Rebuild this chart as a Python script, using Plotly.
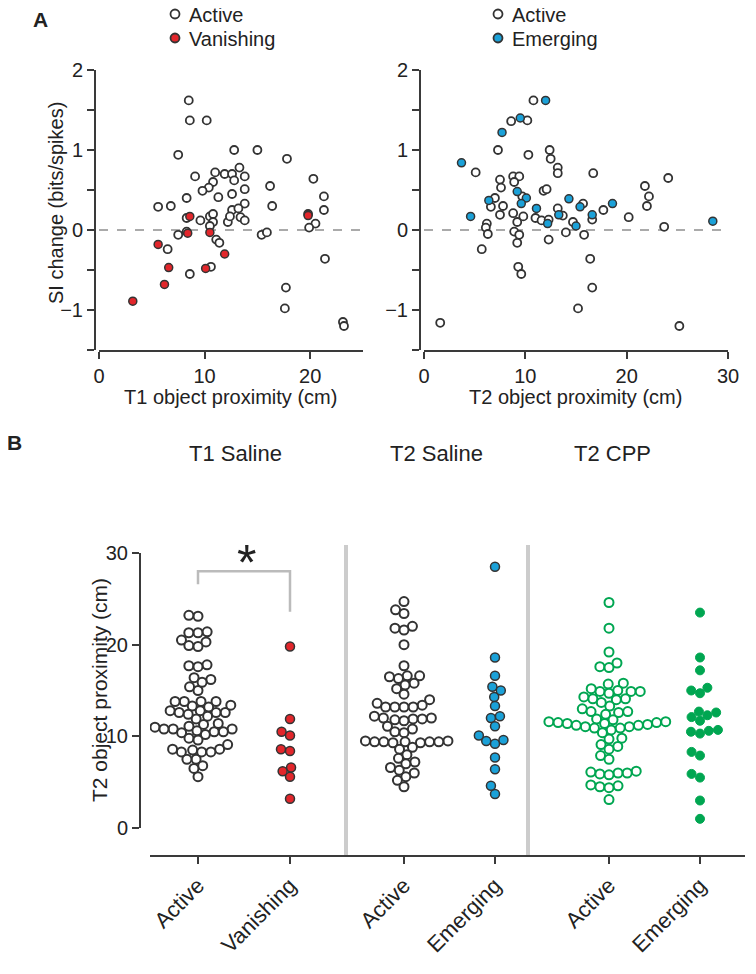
import math
import plotly.graph_objects as go

W, H = 756, 974
OFF = 8  # page body margin of the browser

# ---------------- Panel A data ----------------
# T1 (left): object proximity (cm) and SI change
t1_active_x = [8.5, 8.6, 10.2, 7.5, 12.8, 15.0, 9.1, 11.0, 11.9, 12.6, 13.3, 12.8, 13.8, 10.8,
               10.4, 9.8, 13.8, 12.6, 11.3, 8.3, 16.2, 5.6, 6.8, 13.8, 12.6, 13.2, 16.4, 17.8,
               20.3, 21.3, 21.3, 8.3, 9.6, 10.5, 10.8, 10.8, 12.2, 12.4, 13.4, 13.8, 10.5, 7.5,
               8.3, 11.1, 11.4, 6.5, 10.6, 8.6, 15.4, 15.9, 20.5, 19.9, 21.4, 17.7, 17.6, 23.1,
               23.2, 19.8]
t1_active_si = [1.62, 1.37, 1.37, 0.94, 1.00, 1.00, 0.67, 0.72, 0.70, 0.70, 0.78, 0.62, 0.67, 0.60,
                0.53, 0.49, 0.51, 0.45, 0.41, 0.40, 0.55, 0.29, 0.30, 0.33, 0.25, 0.27, 0.30, 0.89,
                0.64, 0.42, 0.25, 0.15, 0.12, 0.17, 0.20, 0.10, 0.10, 0.17, 0.16, 0.12, 0.05, -0.06,
                -0.02, -0.12, -0.16, -0.24, -0.46, -0.55, -0.06, -0.03, 0.08, 0.03, -0.36, -0.72,
                -0.98, -1.15, -1.20, 0.20]
t1_vanish_x = [8.6, 8.4, 10.5, 5.6, 11.9, 6.6, 10.1, 6.2, 3.2, 19.8]
t1_vanish_si = [0.17, -0.04, -0.03, -0.18, -0.30, -0.47, -0.48, -0.68, -0.89, 0.18]

# T2 (right)
t2_active_x = [10.8, 8.6, 10.2, 7.3, 10.3, 12.4, 12.5, 13.2, 13.2, 5.1, 7.5, 7.6, 8.8, 9.4, 8.9,
               9.7, 11.8, 12.1, 7.0, 6.6, 7.8, 13.2, 16.7, 24.1, 21.8, 22.2, 22.0, 15.7, 17.7,
               7.5, 6.2, 6.1, 6.3, 5.7, 8.8, 9.2, 9.8, 8.9, 9.4, 9.2, 9.3, 9.6, 11.0, 11.6, 12.3,
               12.3, 13.7, 14.7, 14.0, 20.2, 16.6, 15.8, 23.7, 16.4, 16.6, 15.2, 1.6, 25.2]
t2_active_si = [1.62, 1.36, 1.37, 1.00, 0.94, 1.00, 0.89, 0.78, 0.71, 0.72, 0.63, 0.53, 0.67, 0.67,
                0.60, 0.42, 0.49, 0.51, 0.40, 0.29, 0.30, 0.27, 0.71, 0.65, 0.55, 0.42, 0.30, 0.33,
                0.25, 0.19, 0.08, 0.03, -0.05, -0.24, 0.21, 0.10, 0.17, -0.02, -0.06, -0.16, -0.46,
                -0.55, 0.15, 0.12, 0.13, -0.12, 0.18, 0.10, -0.03, 0.16, 0.13, -0.06, 0.04, -0.36,
                -0.72, -0.98, -1.16, -1.20]
t2_emerg_x = [12.0, 9.5, 7.7, 3.7, 9.2, 10.1, 14.3, 6.4, 9.6, 11.1, 15.4, 4.6, 12.2, 13.3, 15.0,
              18.6, 16.6, 28.5]
t2_emerg_si = [1.62, 1.40, 1.22, 0.84, 0.48, 0.40, 0.39, 0.37, 0.33, 0.27, 0.29, 0.17, 0.08, 0.19,
               0.05, 0.33, 0.19, 0.11]

# ---------------- Panel B data (object proximity, cm) ----------------
group_labels = ["Active", "Vanishing", "Active", "Emerging", "Active", "Emerging"]
group_titles = ["T1 Saline", "T2 Saline", "T2 CPP"]
t1_saline_active = t1_active_x
t1_saline_vanish = t1_vanish_x
t2_saline_active = [24.7, 23.8, 23.4, 22.0, 21.8, 21.6, 20.0, 17.7, 16.6, 16.6, 16.5, 16.3, 15.8,
                    15.6, 15.2, 14.6, 14.0, 13.6, 13.4, 13.2, 13.2, 13.2, 13.2, 12.2, 12.0, 12.0,
                    11.9, 11.8, 11.7, 11.9, 11.1, 10.8, 10.5, 10.4, 9.5, 9.4, 9.4, 9.4, 9.3, 9.5,
                    9.4, 9.4, 9.3, 8.8, 8.6, 8.0, 7.6, 7.2, 7.0, 6.6, 6.3, 6.0, 5.6, 5.2, 4.5]
t2_saline_emerg = t2_emerg_x
cpp_active = [24.6, 21.8, 19.2, 17.6, 18.0, 17.5, 15.7, 15.8, 14.9, 15.0, 15.2, 14.9, 14.9,
              14.1, 14.3, 14.7, 14.1, 14.0, 13.3, 13.7, 13.0, 12.6, 12.4, 12.7, 12.7,
              11.8, 11.9, 11.5, 11.4, 11.6, 11.6, 11.5, 11.4, 11.2, 11.05, 11.05, 11.3, 11.2,
              10.7, 10.9, 10.9, 9.7, 10.4, 9.8, 8.9, 9.1, 8.6, 7.9, 7.5, 6.2, 6.0, 5.9, 6.1,
              5.8, 6.0, 4.6, 4.5, 4.4, 4.7, 3.1]
cpp_emerg = [23.5, 18.6, 17.2, 15.0, 15.3, 14.7, 12.1, 12.6, 12.7, 12.3, 11.7, 10.3, 10.6,
             10.7, 10.5, 8.3, 7.9, 5.9, 5.5, 3.0, 1.0]

# ---------------- styling ----------------
FONT = "Arial, Liberation Sans, sans-serif"
AX = "#3a3a3a"
EDGE = "#333333"
RED = "#e2262b"
BLUE = "#1ba1d8"
GREEN = "#00a651"


def px(x):
    return (x - OFF) / W


def py(y):
    return 1 - (y - OFF) / H


def swarm(vals, scale, d):
    """Deterministic beeswarm offsets (pixels) for values drawn at `scale` px per unit."""
    ys = [v * scale for v in vals]
    order = sorted(range(len(vals)), key=lambda i: ys[i])
    placed = []
    offs = [0.0] * len(vals)
    for i in order:
        y = ys[i]
        cands = [0.0]
        for (ox, oy) in placed:
            dy = y - oy
            if abs(dy) < d:
                dx = math.sqrt(d * d - dy * dy)
                cands += [ox + dx, ox - dx]
        cands.sort(key=lambda c: (abs(c), c))
        for c in cands:
            if all((c - ox) ** 2 + (y - oy) ** 2 >= d * d - 1e-6 for ox, oy in placed):
                offs[i] = c
                placed.append((c, y))
                break
    return offs


fig = go.Figure()

open_marker = dict(size=8, color="white", line=dict(color=EDGE, width=1.8))


def filled(c):
    return dict(size=8, color=c, line=dict(color=EDGE, width=1.5))


# Panel A
fig.add_trace(go.Scatter(x=t1_active_x, y=t1_active_si, mode="markers", marker=open_marker,
                         xaxis="x", yaxis="y", showlegend=False))
fig.add_trace(go.Scatter(x=t1_vanish_x, y=t1_vanish_si, mode="markers", marker=filled(RED),
                         xaxis="x", yaxis="y", showlegend=False))
fig.add_trace(go.Scatter(x=t2_active_x, y=t2_active_si, mode="markers", marker=open_marker,
                         xaxis="x2", yaxis="y2", showlegend=False))
fig.add_trace(go.Scatter(x=t2_emerg_x, y=t2_emerg_si, mode="markers", marker=filled(BLUE),
                         xaxis="x2", yaxis="y2", showlegend=False))

# Panel B
B_TOP, B_BOT = 553, 828
B_SCALE = (B_BOT - B_TOP) / 30.0
centers = [198, 290, 404, 495, 609, 700]
groups = [t1_saline_active, t1_saline_vanish, t2_saline_active, t2_saline_emerg, cpp_active, cpp_emerg]
styles = [
    dict(size=9, color="white", line=dict(color=EDGE, width=2)),
    dict(size=9, color=RED, line=dict(color=EDGE, width=1.5)),
    dict(size=9, color="white", line=dict(color=EDGE, width=2)),
    dict(size=9, color=BLUE, line=dict(color=EDGE, width=1.5)),
    dict(size=9, color="white", line=dict(color=GREEN, width=2)),
    dict(size=9, color=GREEN, line=dict(color=GREEN, width=1)),
]
for c, vals, st in zip(centers, groups, styles):
    offs = swarm(vals, B_SCALE, 9.2)
    fig.add_trace(go.Scatter(x=[c + o for o in offs], y=vals, mode="markers", marker=st,
                             xaxis="x3", yaxis="y3", showlegend=False))

axis_common = dict(showline=True, linewidth=2, linecolor=AX, ticks="outside", ticklen=7,
                   tickwidth=2, tickcolor=AX, showgrid=False, zeroline=False, automargin=False,
                   tickfont=dict(size=20, color="#222", family=FONT))

yt = [-1.5, -1, -0.5, 0, 0.5, 1, 1.5, 2]
ytt = ["", "−1", "", "0", "", "1", "", "2"]

# x data units of panel B are page pixels
xb0, xb1 = 150, 745
fig.update_layout(
    width=W, height=H, autosize=False, margin=dict(l=0, r=0, t=0, b=0, pad=0),
    paper_bgcolor="white", plot_bgcolor="white", showlegend=False,
    font=dict(family=FONT, color="#222"),
    xaxis=dict(domain=[px(99), px(363)], range=[0, 25], anchor="y", tickvals=[0, 10, 20],
               **axis_common),
    yaxis=dict(domain=[py(350), py(70)], range=[-1.5, 2], anchor="free", position=px(95),
               tickvals=yt, ticktext=ytt, **axis_common),
    xaxis2=dict(domain=[px(424), px(728)], range=[0, 30], anchor="y2",
                tickvals=[0, 10, 20, 30], **axis_common),
    yaxis2=dict(domain=[py(350), py(70)], range=[-1.5, 2], anchor="free", position=px(420),
                tickvals=yt, ticktext=ytt, **axis_common),
    xaxis3=dict(domain=[px(xb0), px(xb1)], range=[xb0, xb1], anchor="free", position=py(856),
                tickvals=centers, ticktext=group_labels, tickangle=-45,
                **{**axis_common, "tickfont": dict(size=22, color="#222", family=FONT)}),
    yaxis3=dict(domain=[py(B_BOT), py(B_TOP)], range=[0, 30], anchor="free", position=px(140),
                tickvals=[0, 10, 20, 30], **axis_common),
)

shapes = []
# zero dashed lines
shapes.append(dict(type="line", xref="x", yref="y", x0=0, x1=25, y0=0, y1=0,
                   line=dict(color="#aaaaaa", width=2, dash="dash"), layer="below"))
shapes.append(dict(type="line", xref="x2", yref="y2", x0=0, x1=30.5, y0=0, y1=0,
                   line=dict(color="#aaaaaa", width=2, dash="dash"), layer="below"))
# separators in B
for sx in [346, 528]:
    shapes.append(dict(type="line", xref="x3", yref="paper", x0=sx, x1=sx, y0=py(856), y1=py(545),
                       line=dict(color="#cccccc", width=4), layer="below"))
# significance bracket
shapes.append(dict(type="path", xref="x3", yref="y3",
                   path=f"M {centers[0]},26.6 L {centers[0]},28.0 L {centers[1]},28.0 L {centers[1]},23.6",
                   line=dict(color="#bbbbbb", width=2.5)))
# legend markers
for (lx, ly, col) in [(175, 14, "white"), (175, 38, RED), (498, 14, "white"), (498, 38, BLUE)]:
    shapes.append(dict(type="circle", xref="paper", yref="paper", xsizemode="pixel",
                       ysizemode="pixel", xanchor=px(lx), yanchor=py(ly), x0=-4.5, x1=4.5,
                       y0=-4.5, y1=4.5, fillcolor=col, line=dict(color=EDGE, width=1.8)))
fig.update_layout(shapes=shapes)

ann = []


def text(x, y, s, size=20, xanchor="center", angle=0, bold=False):
    ann.append(dict(x=px(x), y=py(y), xref="paper", yref="paper", text=f"<b>{s}</b>" if bold else s,
                    showarrow=False, xanchor=xanchor, yanchor="middle", textangle=angle,
                    font=dict(size=size, family=FONT, color="#222")))


text(40, 20, "A", size=21, bold=True)
text(14, 442, "B", size=21, bold=True)
text(187, 15, "Active", xanchor="left")
text(187, 39, "Vanishing", xanchor="left")
text(510, 15, "Active", xanchor="left")
text(510, 39, "Emerging", xanchor="left")
text(56, 203, "SI change (bits/spikes)", angle=-90)
text(230, 397, "T1 object proximity (cm)")
text(575, 397, "T2 object proximity (cm)")
text(235, 454, group_titles[0], size=22)
text(436, 454, group_titles[1], size=22)
text(612, 454, group_titles[2], size=22)
text(99, 690, "T2 object proximity (cm)", size=21, angle=-90)
text(246, 563, "*", size=50)
fig.update_layout(annotations=ann)

fig.write_html("out.html")
